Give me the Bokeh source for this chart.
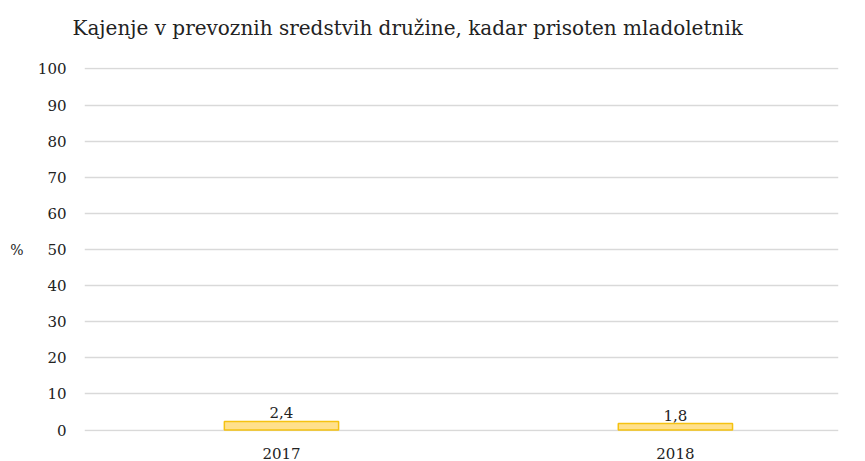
from bokeh.plotting import figure
from bokeh.models import Range1d, FixedTicker, LinearAxis, ColumnDataSource
from bokeh.embed import file_html
from bokeh.resources import INLINE

years = ["2017", "2018"]
values = [2.4, 1.8]
y_ticks = [0, 10, 20, 30, 40, 50, 60, 70, 80, 90, 100]
title_text = "Kajenje v prevoznih sredstvih družine, kadar prisoten mladoletnik"
y_label = "%"

FONT = "DejaVu Serif"
X_END = 1.414
xs = list(range(len(years)))
labels = [f"{v:.1f}".replace(".", ",") for v in values]
src = ColumnDataSource(dict(x=xs, top=values, lab=labels))

p = figure(width=865, height=461, output_backend="svg", toolbar_location=None,
           x_range=Range1d(-0.5, X_END), y_range=Range1d(-0.4, 100.4),
           min_border_left=84, min_border_right=27, min_border_top=67, min_border_bottom=30)
p.outline_line_color = None
p.background_fill_color = "white"
p.border_fill_color = "white"

p.title.text = title_text
p.title.text_font = FONT
p.title.text_font_size = "20px"
p.title.text_font_style = "normal"
p.title.text_color = "#222222"
p.title.align = "left"
p.title.offset = -12
p.title.standoff = 10

p.vbar(x="x", top="top", bottom=0, width=0.29, source=src,
       fill_color="#FFE08C", line_color="#F5C211", line_width=1.5)
p.text(x="x", y="top", text="lab", source=src, text_align="center",
       text_baseline="bottom", y_offset=-3, text_font_size="15px",
       text_color="#222222", text_font={"value": FONT})

p.xgrid.grid_line_color = None
p.ygrid.ticker = FixedTicker(ticks=y_ticks)
p.ygrid.grid_line_color = "#d9d9d9"
p.ygrid.grid_line_width = 1.5

p.yaxis.ticker = FixedTicker(ticks=y_ticks)
p.yaxis.axis_line_color = None
p.yaxis.major_tick_line_color = None
p.yaxis.minor_tick_line_color = None
p.yaxis.major_label_text_font = FONT
p.yaxis.major_label_text_font_size = "15px"
p.yaxis.major_label_text_color = "#222222"
p.yaxis.major_label_standoff = 12

xax = p.below[0]
xax.ticker = FixedTicker(ticks=xs)
xax.major_label_overrides = {i: y for i, y in enumerate(years)}
xax.axis_line_color = None
xax.major_tick_line_color = None
xax.minor_tick_line_color = None
xax.major_label_text_font = FONT
xax.major_label_text_font_size = "15px"
xax.major_label_text_color = "#222222"
xax.major_label_standoff = 10

# the "%" unit label, drawn horizontally beside the 50 tick
unit_axis = LinearAxis(ticker=FixedTicker(ticks=[50]),
                       major_label_overrides={50: y_label},
                       axis_line_color=None, major_tick_line_color=None,
                       minor_tick_line_color=None,
                       major_label_text_font=FONT,
                       major_label_text_font_size="14px",
                       major_label_text_color="#222222",
                       major_label_standoff=5)
p.add_layout(unit_axis, "left")

# white (invisible) spacer between the title and the plot area
spacer = LinearAxis(ticker=FixedTicker(ticks=[X_END]), axis_line_color=None,
                    major_tick_line_color="white", minor_tick_line_color=None,
                    major_tick_out=23, major_tick_in=0, major_label_standoff=0,
                    major_label_overrides={X_END: ""})
p.add_layout(spacer, "above")

open("out.html", "w").write(file_html(p, INLINE))
